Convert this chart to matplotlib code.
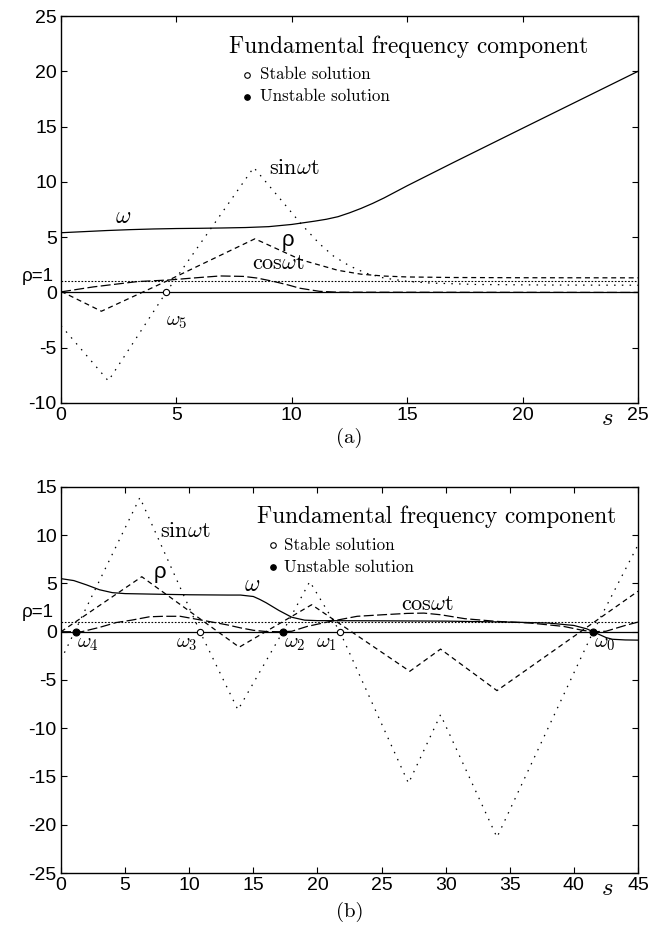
import matplotlib
matplotlib.use("Agg")
import matplotlib.pyplot as plt

plt.rcParams['mathtext.fontset'] = 'cm'
plt.rcParams['font.family'] = ['Liberation Sans', 'DejaVu Sans']

# ---------------- Panel (a) data ----------------
a_s_omega = [0, 1, 2, 3, 4, 5, 6, 7, 8, 9, 10, 10.5, 11, 11.5, 12, 12.5, 13, 13.5, 14, 14.5, 15, 16, 17, 20, 25]
a_omega = [5.4, 5.5, 5.6, 5.68, 5.74, 5.78, 5.8, 5.83, 5.87, 5.95, 6.15, 6.3, 6.45, 6.62, 6.85, 7.2, 7.6, 8.05, 8.55, 9.1, 9.65, 10.7, 11.75, 14.85, 20.0]

a_s_sin = [0, 2.05, 4.55, 8.35, 9.4, 10.4, 11.2, 11.8, 12.5, 13.2, 14, 15, 16, 18, 21, 25]
a_sin = [-3.0, -8.0, 0.0, 11.3, 8.7, 6.2, 4.4, 3.3, 2.4, 1.75, 1.3, 1.0, 0.85, 0.72, 0.67, 0.65]

a_s_rho = [0, 1.75, 4.6, 8.4, 10.4, 12, 13, 14, 15, 17, 20, 25]
a_rho = [0.1, -1.7, 1.05, 4.85, 2.95, 2.0, 1.65, 1.48, 1.4, 1.35, 1.33, 1.32]

a_s_cos = [0, 1.4, 3.3, 4.7, 6, 6.9, 7.9, 8.5, 9.2, 9.8, 10.35, 11.2, 12, 25]
a_cos = [0.05, 0.5, 0.98, 1.13, 1.35, 1.49, 1.45, 1.3, 1.0, 0.7, 0.38, 0.1, 0.02, 0.0]

a_stable = [4.55]
a_stable_labels = [r"$\omega_5$"]

# ---------------- Panel (b) data ----------------
b_s_omega = [0, 1, 2, 3, 4, 5, 7, 10, 13, 14, 15, 15.5, 16, 17, 18, 19, 20, 25, 30, 35, 38, 40, 41, 41.5, 42, 42.5, 43, 44, 45]
b_omega = [5.5, 5.3, 4.85, 4.35, 4.05, 3.95, 3.9, 3.83, 3.8, 3.8, 3.65, 3.35, 3.0, 2.2, 1.5, 1.2, 1.15, 1.13, 1.1, 1.0, 0.9, 0.65, 0.3, 0.0, -0.3, -0.6, -0.78, -0.85, -0.87]

b_s_sin = [0, 6.15, 10.84, 13.8, 17.3, 19.4, 21.75, 27.1, 29.6, 34.0, 41.5, 45]
b_sin = [-2.9, 13.9, 0.0, -8.1, 0.0, 5.2, 0.0, -15.7, -8.6, -21.3, 0.0, 9.0]

b_s_rho = [0, 6.3, 13.9, 19.55, 27.2, 29.6, 34.0, 45]
b_rho = [0.0, 5.7, -1.6, 2.8, -4.1, -1.8, -6.1, 4.2]

b_s_cos = [0, 1.6, 3, 4.3, 5.5, 6.9, 8, 9.3, 10.8, 12, 13, 14, 15, 16, 17, 18, 19.2, 21, 23.1, 25.1, 27, 28.3, 29.6, 31.5, 34, 36.6, 39.2, 40.7, 41.5, 42.5, 44, 45]
b_cos = [0.0, 0.0, 0.45, 0.95, 1.2, 1.55, 1.6, 1.6, 1.24, 0.95, 0.7, 0.4, 0.15, 0.02, 0.0, 0.05, 0.55, 1.07, 1.6, 1.76, 1.9, 1.93, 1.76, 1.35, 1.07, 0.9, 0.55, 0.14, 0.0, 0.05, 0.65, 1.0]

b_stable = [10.84, 21.75]
b_stable_labels = [r"$\omega_3$", r"$\omega_1$"]
b_unstable = [1.17, 17.3, 41.5]
b_unstable_labels = [r"$\omega_4$", r"$\omega_2$", r"$\omega_0$"]

a_xticks = [0, 5, 10, 15, 20, 25]
a_yticks = [-10, -5, 0, 5, 10, 15, 20, 25]
a_yticklabels = ['-10', '-5', '0', '5', '10', '15', '20', '25']
b_xticks = [0, 5, 10, 15, 20, 25, 30, 35, 40, 45]
b_yticks = [-25, -20, -15, -10, -5, 0, 5, 10, 15]
b_yticklabels = ['-25', '-20', '-15', '-10', '-5', '0', '5', '10', '15']

fig = plt.figure(figsize=(6.66, 9.32), dpi=100)
axA = fig.add_axes([0.0916, 0.5676, 0.8664, 0.4152])
axB = fig.add_axes([0.0916, 0.0633, 0.8664, 0.4142])

LW = 0.9
SERIF = 'cmr10'


def style_axes(ax, xt, yt, ytl, xlim, ylim):
    ax.set_xlim(*xlim)
    ax.set_ylim(*ylim)
    ax.set_xticks(xt)
    ax.set_yticks(yt)
    ax.set_xticklabels([str(v) for v in xt])
    ax.set_yticklabels(ytl)
    ax.tick_params(direction='in', length=4, width=0.8, top=True, right=True,
                   labelsize=14, pad=3)
    for sp in ax.spines.values():
        sp.set_linewidth(1.0)


def draw_common(ax, rho_label_y):
    ax.axhline(0, color='black', lw=LW)
    ax.axhline(1, color='black', lw=0.8, linestyle=(0, (1.5, 1.5)))
    ax.text(-0.012, rho_label_y, "ρ=1", transform=ax.get_yaxis_transform(), ha='right', va='center',
            fontsize=13.5)


# ---- Panel (a)
axA.plot(a_s_omega, a_omega, color='black', lw=LW)
axA.plot(a_s_sin, a_sin, color='black', lw=LW, linestyle=(0, (1.2, 5)))
axA.plot(a_s_rho, a_rho, color='black', lw=LW, linestyle=(0, (4, 3)))
axA.plot(a_s_cos, a_cos, color='black', lw=LW, linestyle=(0, (8, 2.7)))
draw_common(axA, 1.45)
style_axes(axA, a_xticks, a_yticks, a_yticklabels, (0, 25), (-10, 25))
axA.plot(a_stable, [0] * len(a_stable), 'o', mfc='white', mec='black', ms=4.5, mew=0.8, zorder=5)
axA.text(5.0, -2.6, a_stable_labels[0], fontsize=15, ha='center', va='center')

axA.text(2.7, 6.8, r"$\omega$", fontsize=17, ha='center', va='center')
axA.text(10.1, 11.2, r"sin$\omega$t", fontsize=16, ha='center', va='center', family=SERIF)
axA.text(9.85, 4.7, "ρ", fontsize=16, ha='center', va='center')
axA.text(9.4, 2.6, r"cos$\omega$t", fontsize=16, ha='center', va='center', family=SERIF)

axA.text(7.3, 22.2, "Fundamental frequency component", fontsize=16.8, ha='left', va='center', family=SERIF)
axA.plot([8.06], [19.7], 'o', mfc='white', mec='black', ms=4, mew=0.8)
axA.plot([8.06], [17.7], 'o', mfc='black', mec='black', ms=4, mew=0.8)
axA.text(8.6, 19.7, "Stable solution", fontsize=12.2, ha='left', va='center', family=SERIF)
axA.text(8.6, 17.7, "Unstable solution", fontsize=12.2, ha='left', va='center', family=SERIF)
axA.text(0.947, -0.04, r"$s$", transform=axA.transAxes, fontsize=18, ha='center', va='center')
axA.text(0.5, -0.09, "(a)", transform=axA.transAxes, fontsize=15, ha='center', va='center', family=SERIF)

# ---- Panel (b)
axB.plot(b_s_omega, b_omega, color='black', lw=LW)
axB.plot(b_s_sin, b_sin, color='black', lw=LW, linestyle=(0, (1.2, 5)))
axB.plot(b_s_rho, b_rho, color='black', lw=LW, linestyle=(0, (4, 3)))
axB.plot(b_s_cos, b_cos, color='black', lw=LW, linestyle=(0, (8, 2.7)))
draw_common(axB, 1.95)
style_axes(axB, b_xticks, b_yticks, b_yticklabels, (0, 45), (-25, 15))
axB.plot(b_stable, [0] * len(b_stable), 'o', mfc='white', mec='black', ms=4.5, mew=0.8, zorder=5)
axB.plot(b_unstable, [0] * len(b_unstable), 'o', mfc='black', mec='black', ms=5, mew=0.8, zorder=5)
for x, lab in zip(b_stable, b_stable_labels):
    axB.text(x - 0.2, -1.2, lab, fontsize=15, ha='right', va='center')
for x, lab in zip(b_unstable, b_unstable_labels):
    axB.text(x + 0.1, -1.2, lab, fontsize=15, ha='left', va='center')

axB.text(7.7, 10.4, r"sin$\omega$t", fontsize=16, ha='left', va='center', family=SERIF)
axB.text(7.75, 6.1, "ρ", fontsize=16, ha='center', va='center')
axB.text(14.9, 4.8, r"$\omega$", fontsize=17, ha='center', va='center')
axB.text(28.6, 2.8, r"cos$\omega$t", fontsize=16, ha='center', va='center', family=SERIF)

axB.text(15.3, 11.9, "Fundamental frequency component", fontsize=16.8, ha='left', va='center', family=SERIF)
axB.plot([16.5], [9.0], 'o', mfc='white', mec='black', ms=4, mew=0.8)
axB.plot([16.5], [6.7], 'o', mfc='black', mec='black', ms=4, mew=0.8)
axB.text(17.4, 9.0, "Stable solution", fontsize=12.2, ha='left', va='center', family=SERIF)
axB.text(17.4, 6.7, "Unstable solution", fontsize=12.2, ha='left', va='center', family=SERIF)
axB.text(0.947, -0.04, r"$s$", transform=axB.transAxes, fontsize=18, ha='center', va='center')
axB.text(0.5, -0.1, "(b)", transform=axB.transAxes, fontsize=15, ha='center', va='center', family=SERIF)

fig.savefig("out.png", dpi=100)
